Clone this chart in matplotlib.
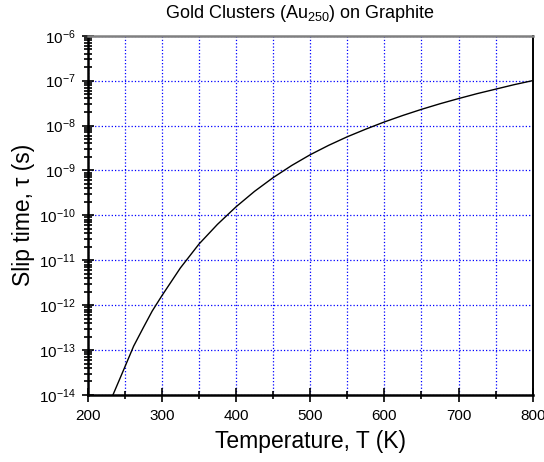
import numpy as np
import matplotlib
matplotlib.use("Agg")
import matplotlib.pyplot as plt
from matplotlib.ticker import LogLocator, MultipleLocator, NullFormatter

plt.rcParams['font.family'] = ['Liberation Sans', 'DejaVu Sans']
plt.rcParams['mathtext.default'] = 'regular'

# values (log10 of slip time in s)
temperature = [234, 250, 262, 275, 287, 300, 325, 350, 375, 400, 425, 450, 475,
               500, 525, 550, 575, 600, 625, 650, 675, 700, 725, 750, 775, 800]
log_slip_time = [-14.0, -13.38, -12.91, -12.50, -12.13, -11.79, -11.17, -10.64,
                 -10.20, -9.81, -9.465, -9.16, -8.89, -8.65, -8.44, -8.25,
                 -8.08, -7.92, -7.775, -7.64, -7.515, -7.40, -7.29, -7.19,
                 -7.09, -7.00]
slip_time = 10.0 ** np.array(log_slip_time)

fig = plt.figure(figsize=(5.44, 4.62), dpi=100)
ax = fig.add_axes([0.1612, 0.145, 0.8180, 0.7777])

ax.semilogy(temperature, slip_time, color='black', lw=1.0, zorder=3)

ax.set_xlim(200, 800)
ax.set_ylim(1e-14, 1e-6)

ax.xaxis.set_major_locator(MultipleLocator(100))
ax.xaxis.set_minor_locator(MultipleLocator(50))
ax.yaxis.set_major_locator(LogLocator(base=10, numticks=20))
ax.yaxis.set_minor_locator(LogLocator(base=10, subs=np.arange(2, 10), numticks=20))
ax.yaxis.set_minor_formatter(NullFormatter())

# blue dotted grid
ax.grid(True, which='major', axis='both', color='#0000ff', ls=':', lw=0.9)
ax.grid(True, which='minor', axis='x', color='#0000ff', ls=':', lw=0.9)

ax.tick_params(axis='both', which='both', direction='inout', top=False, right=False,
               labelsize=11, width=1.2, color='black')
ax.tick_params(axis='x', which='major', length=10, pad=5)
ax.tick_params(axis='x', which='minor', length=6)
ax.tick_params(axis='y', which='major', length=9, pad=4)
ax.tick_params(axis='y', which='minor', length=6)

for side in ['left', 'bottom']:
    ax.spines[side].set_linewidth(1.8)
ax.spines['right'].set_linewidth(1.4)
ax.spines['top'].set_linewidth(1.8)
ax.spines['top'].set_color('#808080')

ax.set_xlabel('Temperature, T (K)', fontsize=16.5, labelpad=5)
ax.set_ylabel('Slip time, τ (s)', fontsize=16.5, labelpad=3)
ax.set_title('Gold Clusters (Au$_{250}$) on Graphite', fontsize=13, pad=12.5, x=0.477)

fig.savefig('out.png', dpi=100)
